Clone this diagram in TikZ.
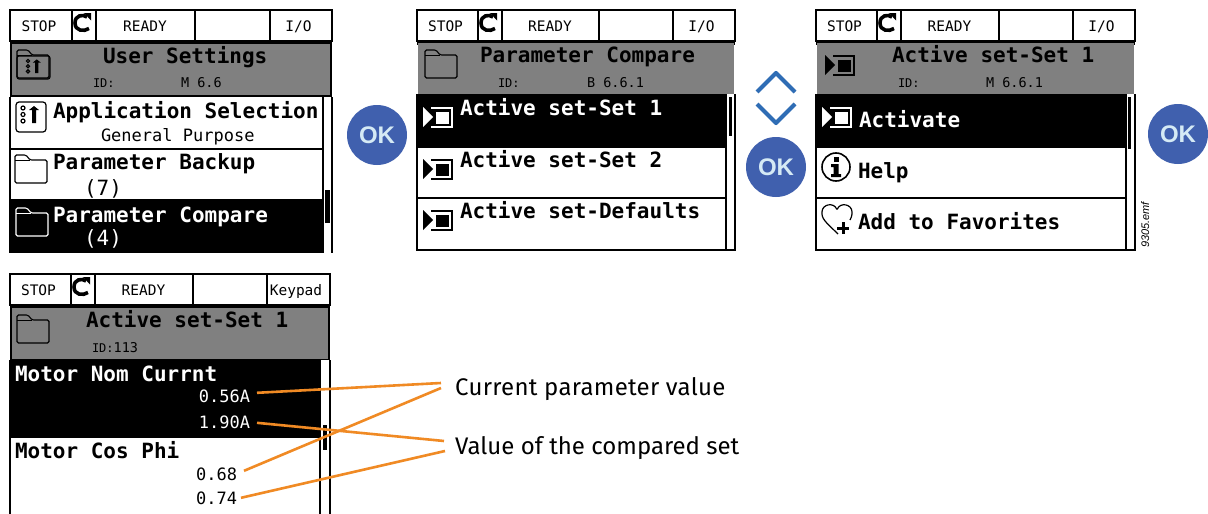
\documentclass[tikz,border=0pt]{standalone}
\usepackage{fontspec}
\setmainfont{Liberation Sans}
\newfontfamily\lcd{DejaVu Sans Mono}
\newfontfamily\lbl{Liberation Sans}
\newfontfamily\din{Fira Sans}
\definecolor{okblue}{HTML}{4060AE}
\definecolor{oktext}{HTML}{D5EAF5}
\definecolor{chev}{HTML}{2F6DB5}
\definecolor{lead}{HTML}{F08A24}
\definecolor{hdr}{HTML}{808080}
\newcommand{\fs}[1]{\fontsize{#1}{#1}\selectfont}
\tikzset{
 x=1pt,y=-1pt,
 scr/.style={inner sep=0pt,outer sep=0pt,anchor=base west,font=\lcd\fs{21}},
 scrb/.style={scr,font=\lcd\bfseries\fs{21}},
 sub/.style={scr,font=\lcd\fs{17}},
 tiny/.style={scr,font=\lcd\fs{12}},
 loc/.style={scr,font=\lcd\fs{13.5}},
 stat/.style={inner sep=0pt,outer sep=0pt,anchor=base,font=\lcd\fs{14.5}},
 frame/.style={draw=black,line width=1.1pt},
 okbtn/.style={circle,fill=okblue,minimum size=60pt,inner sep=0pt,text=oktext,font=\lbl\bfseries\fs{24}},
 labeltxt/.style={inner sep=0pt,anchor=base west,font=\din\fs{24}},
 leader/.style={draw=lead,line width=2.6pt},
 chevron/.style={draw=chev,line width=4.2pt,line join=round},
}
% folder: top-left x,y ; colour
\newcommand{\iconfolder}[3]{\begin{scope}[shift={(#1,#2)}]
 \draw[#3,line width=1.1pt,rounded corners=1.5pt] (0,0)--(11,0)--(15,5)--(32,5)--(32,28)--(0,28)--cycle;
 \draw[#3,line width=1pt] (0,5)--(15,5);
\end{scope}}
% parameter set icon
\newcommand{\iconset}[4]{\begin{scope}[shift={(#1,#2)}]
 \fill[#3] (0,0)--(10,10)--(0,20)--cycle;
 \draw[#3,line width=1.1pt] (8,1)--(29,1)--(29,20)--(8,20);
 \fill[#4] (13,5) rectangle (26,17);
\end{scope}}
% refresh glyph, centre x,y
\newcommand{\iconrefresh}[2]{\begin{scope}[shift={(#1,#2)}]
 \draw[line width=3.6pt] (5,-6) .. controls (1,-9) and (-7,-8) .. (-7,0) .. controls (-7,8) and (2,9) .. (7,5.5);
 \fill (2,-10)--(9,-10)--(9,-2.5)--cycle;
\end{scope}}
% settings glyph
\newcommand{\iconapp}{%
 \draw[line width=1.2pt] (0,0) circle[radius=2];
 \draw[line width=1.2pt] (0,6.5) circle[radius=2];
 \draw[line width=1.2pt] (0,13) circle[radius=2];
 \fill (6,2)--(11,-2)--(16,2)--(13,2)--(13,15)--(9,15)--(9,2)--cycle;
}
% status bar: name prefix, x0..x5, y, last text
\newcommand{\statusbar}[9]{%
 \draw[frame] (#2,#8) rectangle (#7,#8+31);
 \foreach \sx in {#3,#4,#5,#6} \draw[frame] (\sx,#8)--(\sx,#8+31);
 \node[stat] (#1stop) at ({(#2+#3)/2-2},#8+21) {STOP};
 \node[stat] (#1ready) at ({(#4+#5)/2-0.5},#8+21) {READY};
 \node[stat] (#1mode) at ({(#6+#7)/2-2.5},#8+21) {#9};
 \iconrefresh{#3+10}{#8+13}
}
\begin{document}
\begin{tikzpicture}
\useasboundingbox (0,0) rectangle (1208,514);
\fill[white] (0,0) rectangle (1208,514);

% ---------- Panel 1
\statusbar{a}{10}{72}{96}{195}{270}{332}{10}{I/O}
\fill[black] (10,41) rectangle (332,97);
\fill[hdr] (12,44) rectangle (330,95);
\iconfolder{17}{50}{black}
\draw[line width=1.1pt,rounded corners=2pt] (17,56) rectangle (50,79);
\begin{scope}[shift={(28,61)},scale=.8]\iconapp\end{scope}
\node[scrb] (atitle) at (103,63) {User Settings};
\node[tiny] (aid) at (93,87) {ID:};
\node[loc] (aloc) at (181,87) {M 6.6};
\draw[frame] (10,97)--(10,253);
\draw[frame] (332,97)--(332,253);
\draw[frame] (323,97)--(323,253);
\draw[frame] (10,149)--(323,149);
\draw[frame] (10,200)--(323,200);
\draw[line width=1.2pt,rounded corners=3pt] (16,102) rectangle (46,132);
\begin{scope}[shift={(23,108)}]\iconapp\end{scope}
\node[scrb] (a1) at (53,118) {Application Selection};
\node[sub] (a1b) at (101,141) {General Purpose};
\iconfolder{15}{155}{black}
\node[scrb] (a2) at (53,169) {Parameter Backup};
\node[scr] (a2b) at (84,195) {(7)};
\fill[black] (10,200) rectangle (323,253);
\fill[black] (325,190) rectangle (330,223);
\iconfolder{16}{208}{white}
\node[scrb,text=white] (a3) at (53,222) {Parameter Compare};
\node[scr,text=white] (a3b) at (84,245) {(4)};

% ---------- Panel 2
\statusbar{b}{417}{478}{502}{599}{673}{735}{10}{I/O}
\fill[black] (417,41) rectangle (735,45);
\fill[hdr] (418,43) rectangle (734,94);
\iconfolder{425}{50}{black}
\node[scrb] (btitle) at (480,62) {Parameter Compare};
\node[tiny] (bid) at (498,87) {ID:};
\node[loc] (bloc) at (587,87) {B 6.6.1};
\draw[frame] (417,94)--(417,250)--(735,250)--(735,94);
\draw[frame] (726,94)--(726,250);
\draw[frame] (417,198)--(726,198);
\fill[black] (417,94) rectangle (726,148);
\fill[black] (729,97) rectangle (732,136);
\iconset{423}{107}{white}{white}
\node[scrb,text=white] (b1) at (460,115) {Active set-Set 1};
\iconset{423}{159}{black}{black}
\node[scrb] (b2) at (460,167) {Active set-Set 2};
\iconset{423}{210}{black}{black}
\node[scrb] (b3) at (460,218) {Active set-Defaults};

% ---------- Panel 3
\statusbar{c}{816}{877}{901}{999}{1073}{1135}{10}{I/O}
\fill[black] (816,41) rectangle (1135,45);
\fill[hdr] (817,43) rectangle (1134,94);
\iconset{825}{55}{black}{black}
\node[scrb] (ctitle) at (892,62) {Active set-Set 1};
\node[tiny] (cid) at (898,87) {ID:};
\node[loc] (cloc) at (986,87) {M 6.6.1};
\draw[frame] (816,94)--(816,250)--(1135,250)--(1135,94);
\draw[frame] (1126,94)--(1126,250);
\draw[frame] (816,198)--(1126,198);
\fill[black] (816,94) rectangle (1126,148);
\fill[black] (1128,97) rectangle (1131,149);
\iconset{822}{107}{white}{white}
\node[scrb,text=white] (c1) at (859,127) {Activate};
\draw[line width=1.6pt] (836,167) circle[radius=14];
\fill (833.5,157) rectangle (838.5,161.5);
\fill (831,164) -- (838.5,164) -- (838.5,174) -- (841,174) -- (841,177) -- (831,177) -- (831,174) -- (833.5,174) -- (833.5,167) -- (831,167) -- cycle;
\node[scrb] (c2) at (858,178) {Help};
\draw[line width=1.2pt,rounded corners=1pt] (838,234) .. controls (830,226) and (822,220) .. (822,213) .. controls (822,204) and (834,202) .. (837,210) .. controls (840,202) and (852,204) .. (852,213) .. controls (852,216) and (851,218) .. (850,220);
\draw[line width=3pt] (843,222)--(843,234) (837,228)--(849,228);
\node[scrb] (c3) at (858,229) {Add to Favorites};
\node[inner sep=0pt,rotate=90,anchor=base west,font=\lbl\itshape\fs{11}] (emf) at (1149,248) {9305.emf};

% ---------- Panel 4
\statusbar{d}{10}{71}{95}{193}{267}{330}{274}{Keypad}
\fill[black] (10,305) rectangle (330,360);
\fill[hdr] (12,308) rectangle (328,359);
\iconfolder{17}{315}{black}
\node[scrb] (dtitle) at (86,327) {Active set-Set 1};
\node[loc] (did) at (92,352) {{\fs{12}ID:}113};
\draw[frame] (10,360)--(10,514);
\draw[frame] (330,360)--(330,514);
\draw[frame] (320,360)--(320,514);
\fill[black] (10,360) rectangle (320,438);
\fill[black] (323,425) rectangle (327,450);
\node[scrb,text=white] (d1) at (15,381) {Motor Nom Currnt};
\node[sub,text=white,anchor=base east] (v1) at (250,402) {0.56A};
\node[sub,text=white,anchor=base east] (v2) at (250,428) {1.90A};
\node[scrb] (d2) at (15,458) {Motor Cos Phi};
\node[sub,anchor=base east] (v3) at (237,480) {0.68};
\node[sub,anchor=base east] (v4) at (237,504) {0.74};

% ---------- OK buttons and chevrons
\node[okbtn] (ok1) at (377,135) {OK};
\node[okbtn] (ok2) at (776,167) {OK};
\node[okbtn] (ok3) at (1178,134) {OK};
\draw[chevron] (757,92)--(776,73)--(795,92);
\draw[chevron] (757,104)--(776,123)--(795,104);

% ---------- Callouts
\node[labeltxt] (cur) at (455,395) {\addfontfeature{LetterSpace=1.2}Current parameter value};
\node[labeltxt] (cmp) at (455,454) {Value of the compared set};
\coordinate (curin) at (441,383);
\coordinate (curinb) at (441,388);
\coordinate (cmpin) at (444,441);
\coordinate (cmpinb) at (445,451);
\draw[leader] ([xshift=7pt,yshift=3pt]v1.east) -- (curin);
\draw[leader] ([xshift=7pt,yshift=3pt]v3.east) -- (curinb);
\draw[leader] ([xshift=7pt,yshift=-1pt]v2.east) -- (cmpin);
\draw[leader] ([xshift=4pt,yshift=0pt]v4.east) -- (cmpinb);
\end{tikzpicture}
\end{document}
